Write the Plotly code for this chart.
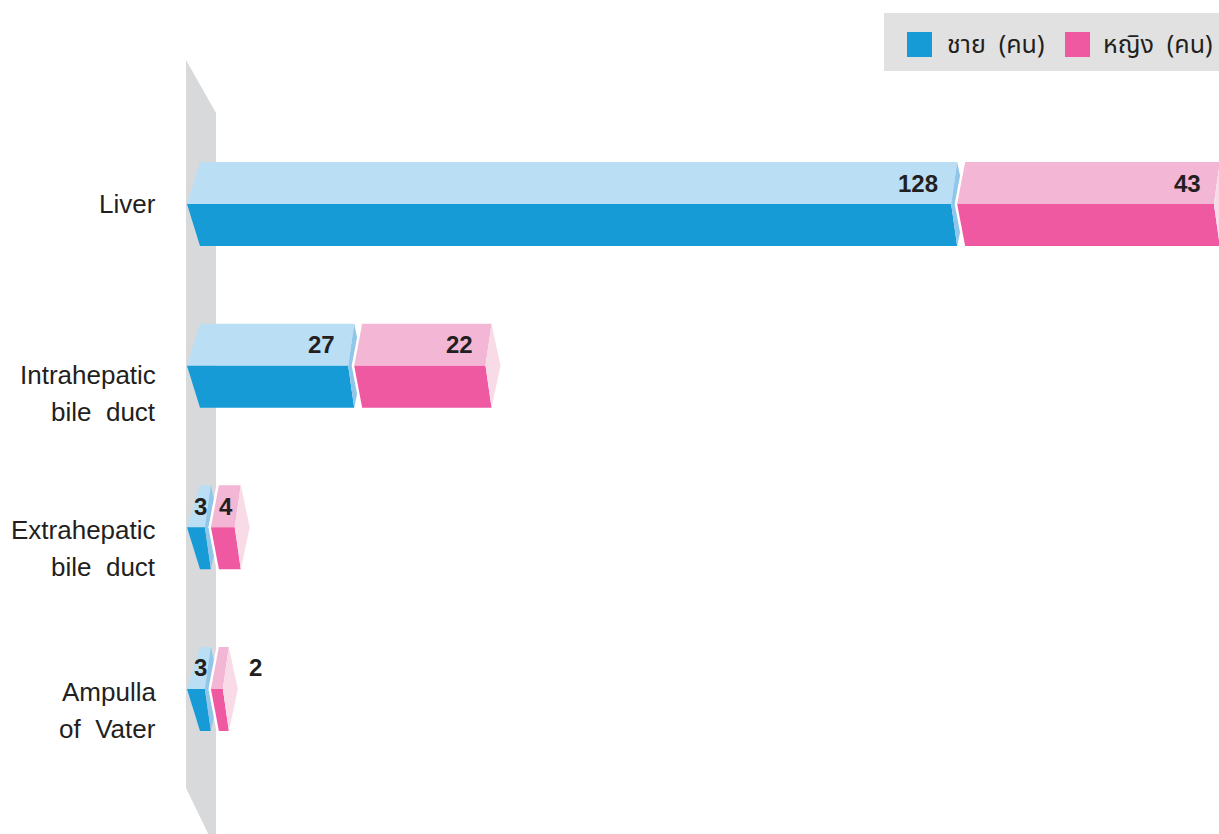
import plotly.graph_objects as go

# ---- data ----
categories = ["Liver", "Intrahepatic<br>bile  duct", "Extrahepatic<br>bile  duct", "Ampulla<br>of  Vater"]
male = [128, 27, 3, 3]
female = [43, 22, 4, 2]
series_names = ["ชาย  (คน)", "หญิง  (คน)"]

# ---- styling ----
W, H = 1219, 834
X0_PX = 187            # pixel position of value 0
KX = 5.97              # pixels per unit on the value axis
Y0_PX = 204.1          # pixel centre of the first row
KY = 161.6             # pixels between rows

BLUE = dict(dark="#169bd7", light="#badef4", cap="#8fc6ea")
PINK = dict(dark="#ef59a1", light="#f3b6d5", cap="#f9dbe8")
WALL = "#d8d9db"
TEXT = "#231f20"
LEGEND_BG = "#e1e1e1"
FONT = "Liberation Sans, Arial, Helvetica, sans-serif"
THAI_FONT = "Noto Sans Thai, Loma, Garuda, Tlwg Typo, Norasi, sans-serif"

HALF = 42      # half bar thickness (px)
D_FIRST = 13   # bevel depth of the leftmost end (px)
D = 6          # bevel depth of other ends (px)
D_PINK = 8
CAP = 9        # protrusion of the end cap (px)
GAP = 6        # gap between stacked pieces (px)
first_line_shift = [0, 9, 3, 3]   # px below the row centre for the first label line
LINE_GAP = 37                     # px between label lines


def px2x(px):
    return px / KX


def px2y(px):
    return px / KY


fig = go.Figure()


def poly(xs, ys, color):
    fig.add_trace(go.Scatter(
        x=xs + [xs[0]], y=ys + [ys[0]], mode="lines", fill="toself",
        fillcolor=color, line=dict(width=0, color=color),
        hoverinfo="skip", showlegend=False))


# side wall behind the bars
wx0, wx1 = px2x(186 - X0_PX), px2x(216 - X0_PX)
wy = lambda p: (p - Y0_PX) / KY
poly([wx0, wx1, wx1, wx0], [wy(60), wy(113), wy(850), wy(788)], WALL)

annotations = []

for i, (m, f) in enumerate(zip(male, female)):
    top, mid, bot = i - px2y(HALF), i, i + px2y(HALF)

    # male piece
    s = 0.0
    e = s + m
    poly([s + px2x(D_FIRST), e + px2x(D), e, s], [top, top, mid, mid], BLUE["light"])
    poly([s, e, e + px2x(D), s + px2x(D_FIRST)], [mid, mid, bot, bot], BLUE["dark"])
    poly([e + px2x(D), e + px2x(D + CAP), e + px2x(D), e], [top, mid, bot, mid], BLUE["cap"])

    # female piece, stacked after a small gap
    s2 = e + px2x(GAP)
    e2 = s2 + f
    poly([s2 + px2x(D_PINK - 2.5), s2 - px2x(2.5), s2 + px2x(D_PINK - 2.5),
          s2 + px2x(20), s2 + px2x(20)], [top, mid, bot, bot, top], "white")
    poly([s2 + px2x(D_PINK), e2 + px2x(D), e2, s2], [top, top, mid, mid], PINK["light"])
    poly([s2, e2, e2 + px2x(D), s2 + px2x(D_PINK)], [mid, mid, bot, bot], PINK["dark"])
    poly([e2 + px2x(D), e2 + px2x(D + CAP), e2 + px2x(D), e2], [top, mid, bot, mid], PINK["cap"])

    # value labels on the top faces
    ly = i - px2y(HALF / 2)
    for (a, b, v, dl) in [(s, e, m, D_FIRST), (s2, e2, f, D_PINK)]:
        wpx = v * KX
        common = dict(y=ly, yref="y", xref="x", text=f"<b>{v}</b>", showarrow=False,
                      font=dict(family=FONT, size=24, color=TEXT), yanchor="middle")
        if wpx >= 60:
            annotations.append(dict(x=b - px2x(11), xanchor="right", **common))
        elif wpx >= 16:
            cx = (2 * a + 2 * b + px2x(dl + D)) / 4
            annotations.append(dict(x=cx, xanchor="center", **common))
        else:
            annotations.append(dict(x=b + px2x(D + CAP + 9), xanchor="left", **common))

    # category label, one annotation per line
    for k, line in enumerate(categories[i].split("<br>")):
        annotations.append(dict(
            x=158 / W, xref="paper", y=i, yref="y",
            yshift=-(first_line_shift[i] + k * LINE_GAP),
            text=line, showarrow=False, xanchor="right", yanchor="middle",
            align="right", font=dict(family=FONT, size=26, color=TEXT)))

# legend box
shapes = [
    dict(type="rect", xref="paper", yref="paper", x0=884 / W, x1=1.0,
         y0=1 - 71 / H, y1=1 - 13 / H, fillcolor=LEGEND_BG, line=dict(width=0), layer="below"),
]
legend_items = [(907, 945, BLUE["dark"], series_names[0]), (1065, 1101, PINK["dark"], series_names[1])]
for sq_x, tx, col, name in legend_items:
    shapes.append(dict(type="rect", xref="paper", yref="paper", x0=sq_x / W, x1=(sq_x + 25) / W,
                       y0=1 - 57 / H, y1=1 - 32 / H, fillcolor=col, line=dict(width=0)))
    annotations.append(dict(x=tx / W, xref="paper", y=1 - 45 / H, yref="paper", text=name,
                            showarrow=False, xanchor="left", yanchor="middle",
                            font=dict(family=THAI_FONT, size=25, color=TEXT)))

fig.update_layout(
    width=W, height=H,
    margin=dict(l=0, r=0, t=0, b=0),
    paper_bgcolor="white", plot_bgcolor="white",
    showlegend=False,
    xaxis=dict(range=[-X0_PX / KX, (W - X0_PX) / KX], visible=False, fixedrange=True),
    yaxis=dict(range=[(H - Y0_PX) / KY, -Y0_PX / KY], visible=False, fixedrange=True),
    shapes=shapes,
    annotations=annotations,
)

fig.write_html("out.html")
